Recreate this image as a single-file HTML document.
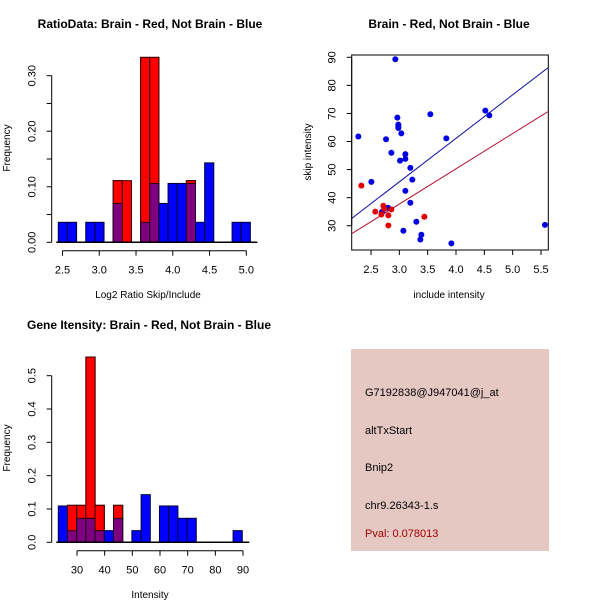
<!DOCTYPE html>
<html><head><meta charset="utf-8"><style>
html,body{margin:0;padding:0;background:#fff;}
svg{display:block;font-family:"Liberation Sans",sans-serif;}
</style></head><body>
<svg id="c" width="600" height="600" viewBox="0 0 600 600" xmlns="http://www.w3.org/2000/svg"></svg>
<script>
// ---- Histogram 1: Log2 ratio ----
const h1Start = 2.443;
const h1Width = 0.1244;
const h1Blue = [0.036,0.036,0,0.036,0.036,0,0.070,0,0,0.036,0.106,0.070,0.106,0.106,0.106,0.036,0.143,0,0,0.036,0.036];
const h1Red  = [0,0,0,0,0,0,0.111,0.111,0,0.333,0.333,0,0,0,0.111,0,0,0,0,0,0];
const h1XTicks = [2.5,3.0,3.5,4.0,4.5,5.0];
const h1XTickLabels = ["2.5","3.0","3.5","4.0","4.5","5.0"];
const h1YTicks = [0,0.05,0.10,0.15,0.20,0.25,0.30];
const h1YTickLabels = ["0.00","","0.10","","0.20","","0.30"];

// ---- Scatter ----
const blueX = [2.276,2.506,2.694,2.765,2.800,2.859,2.929,2.965,2.982,2.982,2.982,3.012,3.035,3.071,3.106,3.106,3.106,3.194,3.194,3.229,3.300,3.371,3.388,3.547,3.829,3.918,4.518,4.588,5.570];
const blueY = [61.8,45.6,35.0,60.8,36.4,56.0,89.3,68.5,66.0,65.3,64.8,53.2,62.9,28.2,55.5,53.8,42.4,50.6,38.2,46.4,31.4,25.1,26.8,69.7,61.1,23.7,71.0,69.3,30.3];
const redX = [2.329,2.576,2.682,2.718,2.735,2.806,2.806,2.859,3.441];
const redY = [44.3,35.0,34.0,37.1,36.0,33.7,30.1,35.8,33.2];
const blueLine = [15.5,-0.87];   // slope, intercept
const redLine = [12.56,0.03];
const scXTicks = [2.5,3.0,3.5,4.0,4.5,5.0,5.5];
const scXTickLabels = ["2.5","3.0","3.5","4.0","4.5","5.0","5.5"];
const scYTicks = [30,40,50,60,70,80,90];
const scYTickLabels = ["30","40","50","60","70","80","90"];

// ---- Histogram 3: Intensity ----
const h3Start = 23.24;
const h3Width = 3.325;
const h3Blue = [0.109,0.035,0.072,0.072,0.035,0.035,0.072,0,0.035,0.143,0,0.109,0.109,0.072,0.072,0,0,0,0,0.035];
const h3Red  = [0,0.111,0.111,0.556,0.111,0,0.111,0,0,0,0,0,0,0,0,0,0,0,0,0];
const h3XTicks = [30,40,50,60,70,80,90];
const h3XTickLabels = ["30","40","50","60","70","80","90"];
const h3YTicks = [0,0.1,0.2,0.3,0.4,0.5];
const h3YTickLabels = ["0.0","0.1","0.2","0.3","0.4","0.5"];

const NS="http://www.w3.org/2000/svg";
const svg=document.getElementById('c');
function mk(tag,attrs,parent){const e=document.createElementNS(NS,tag);for(const k in attrs)e.setAttribute(k,attrs[k]);(parent||svg).appendChild(e);return e;}
function txt(s,x,y,opts,parent){const t=mk('text',Object.assign({x:x,y:y,'font-size':11,'text-anchor':'middle',fill:'#000'},opts||{}),parent);t.textContent=s;return t;}
function lin(d0,d1,r0,r1){return v=>r0+(v-d0)/(d1-d0)*(r1-r0);}

function hist(cfg){
  const g=mk('g',{});
  
  
  const X=cfg.X,Y=cfg.Y;
  for(let i=0;i<cfg.blue.length;i++){
    const x0=X(cfg.start+i*cfg.width),x1=X(cfg.start+(i+1)*cfg.width);
    const r=cfg.red[i],b=cfg.blue[i],m=Math.min(r,b);
    if(r>0){const e=mk('rect',{x:x0,y:Y(r),width:x1-x0,height:Y(0)-Y(r),fill:'#ff0000',stroke:'#300',"stroke-width":1},g);
      }
    if(b>0){const e=mk('rect',{x:x0,y:Y(b),width:x1-x0,height:Y(0)-Y(b),fill:'#0000ff',stroke:'#003',"stroke-width":1},g);
      }
    if(m>0){const e=mk('rect',{x:x0,y:Y(m),width:x1-x0,height:Y(0)-Y(m),fill:'#7f007f',stroke:'#200020',"stroke-width":1},g);
      }
    if(r>b&&b>0){mk('rect',{x:x0,y:Y(r),width:x1-x0,height:Y(b)-Y(r),fill:'#ff0000',stroke:'#300',"stroke-width":1},g);}
    else if(b>r&&r>0){mk('rect',{x:x0,y:Y(b),width:x1-x0,height:Y(r)-Y(b),fill:'#0000ff',stroke:'#003',"stroke-width":1},g);}
  }
  mk('line',{x1:X(cfg.start)-2,x2:X(cfg.start+cfg.blue.length*cfg.width)+7,y1:Y(0),y2:Y(0),stroke:'#000','stroke-width':1.5},g);
  axes(cfg,g);
}
function axes(cfg,g){
  const X=cfg.X,Y=cfg.Y;
  const xa=mk('g',{},g);
  const xt=cfg.xTicks;
  mk('line',{x1:X(xt[0]),x2:X(xt[xt.length-1]),y1:cfg.xAxisY,y2:cfg.xAxisY,stroke:'#000'},xa);
  xt.forEach((v,i)=>{mk('line',{x1:X(v),x2:X(v),y1:cfg.xAxisY,y2:cfg.xAxisY+5,stroke:'#000'},xa);
    txt(cfg.xLabels[i],X(v),cfg.xAxisY+23,{},xa);});
  const ya=mk('g',{},g);
  const yt=cfg.yTicks;
  mk('line',{x1:cfg.yAxisX,x2:cfg.yAxisX,y1:Y(yt[0]),y2:Y(yt[yt.length-1]),stroke:'#000'},ya);
  yt.forEach((v,i)=>{mk('line',{x1:cfg.yAxisX-5,x2:cfg.yAxisX,y1:Y(v),y2:Y(v),stroke:'#000'},ya);
    if(cfg.yLabels[i]){const yy=Y(v),xx=cfg.yAxisX-19;txt(cfg.yLabels[i],xx,yy,{transform:`rotate(-90 ${xx} ${yy})`,'dominant-baseline':'central'},ya);}});
  const xl=txt(cfg.xTitle,cfg.xTitleX,cfg.xTitleY,{'font-size':10});
  const yl=txt(cfg.yTitle,cfg.yTitleX,cfg.yTitleY,{'font-size':10,transform:`rotate(-90 ${cfg.yTitleX} ${cfg.yTitleY})`});
  
  const tt=txt(cfg.title,cfg.titleX,28,{'font-size':12,'font-weight':'bold',transform:`translate(0 ${cfg.titleDY})`});
  
}

hist({name:'ratio-histogram',X:lin(2.5,5.0,62.5,246.3),Y:lin(0,0.30,242.3,75.7),start:h1Start,width:h1Width,blue:h1Blue,red:h1Red,
  xTicks:h1XTicks,xLabels:h1XTickLabels,yTicks:h1YTicks,yLabels:h1YTickLabels,xAxisY:250.7,yAxisX:51.7,
  xTitle:'Log2 Ratio Skip/Include',xTitleX:148,xTitleY:298,yTitle:'Frequency',yTitleX:10,yTitleY:148,
  title:'RatioData: Brain - Red, Not Brain - Blue',titleX:150,titleDY:0});

hist({name:'intensity-histogram',X:lin(30,90,77,243),Y:lin(0,0.5,542.3,375.7),start:h3Start,width:h3Width,blue:h3Blue,red:h3Red,
  xTicks:h3XTicks,xLabels:h3XTickLabels,yTicks:h3YTicks,yLabels:h3YTickLabels,xAxisY:550.7,yAxisX:51.7,
  xTitle:'Intensity',xTitleX:150,xTitleY:598,yTitle:'Frequency',yTitleX:10,yTitleY:448,
  title:'Gene Itensity: Brain - Red, Not Brain - Blue',titleX:149,titleDY:301});

// Scatter
(function(){
  const g=mk('g',{});
  
  
  const x0=2.159,x1=5.629,y0=21.35,y1=90.82;
  const X=lin(x0,x1,351.7,548.3),Y=lin(y0,y1,250,55);
  mk('rect',{x:351.7,y:55,width:196.6,height:195,fill:'none',stroke:'#000'},g);
  const cp=mk('clipPath',{id:'scclip'},g);mk('rect',{x:351.7,y:55,width:196.6,height:195},cp);
  const bl=mk('line',{x1:X(x0),y1:Y(blueLine[0]*x0+blueLine[1]),x2:X(x1),y2:Y(blueLine[0]*x1+blueLine[1]),stroke:'#1010a0','clip-path':'url(#scclip)'},g);
  
  const rl=mk('line',{x1:X(x0),y1:Y(redLine[0]*x0+redLine[1]),x2:X(x1),y2:Y(redLine[0]*x1+redLine[1]),stroke:'#b01030','clip-path':'url(#scclip)'},g);
  
  blueX.forEach((v,i)=>{const c=mk('circle',{cx:X(v),cy:Y(blueY[i]),r:3,fill:'#0000e0'},g);
    });
  redX.forEach((v,i)=>{const c=mk('circle',{cx:X(v),cy:Y(redY[i]),r:3,fill:'#e00000'},g);
    });
  axes({name:'intensity-scatter',X:X,Y:Y,xTicks:scXTicks,xLabels:scXTickLabels,yTicks:scYTicks,yLabels:scYTickLabels,
    xAxisY:250,yAxisX:351.7,xTitle:'include intensity',xTitleX:449,xTitleY:298,yTitle:'skip intensity',yTitleX:311,yTitleY:152,
    title:'Brain - Red, Not Brain - Blue',titleX:449,titleDY:0},g);
})();
</script>
<div style="position:absolute;left:351px;top:349px;width:198px;height:202px;background:#e6c8c2;font-family:'Liberation Sans',sans-serif;font-size:11px;color:#000;">
  <div style="position:absolute;left:14px;top:38px;">G7192838@J947041@j_at</div>
  <div style="position:absolute;left:14px;top:76px;">altTxStart</div>
  <div style="position:absolute;left:14px;top:113px;">Bnip2</div>
  <div style="position:absolute;left:14px;top:151px;">chr9.26343-1.s</div>
  <div style="position:absolute;left:14px;top:179px;color:#a00000;">Pval: 0.078013</div>
</div>
</body></html>
